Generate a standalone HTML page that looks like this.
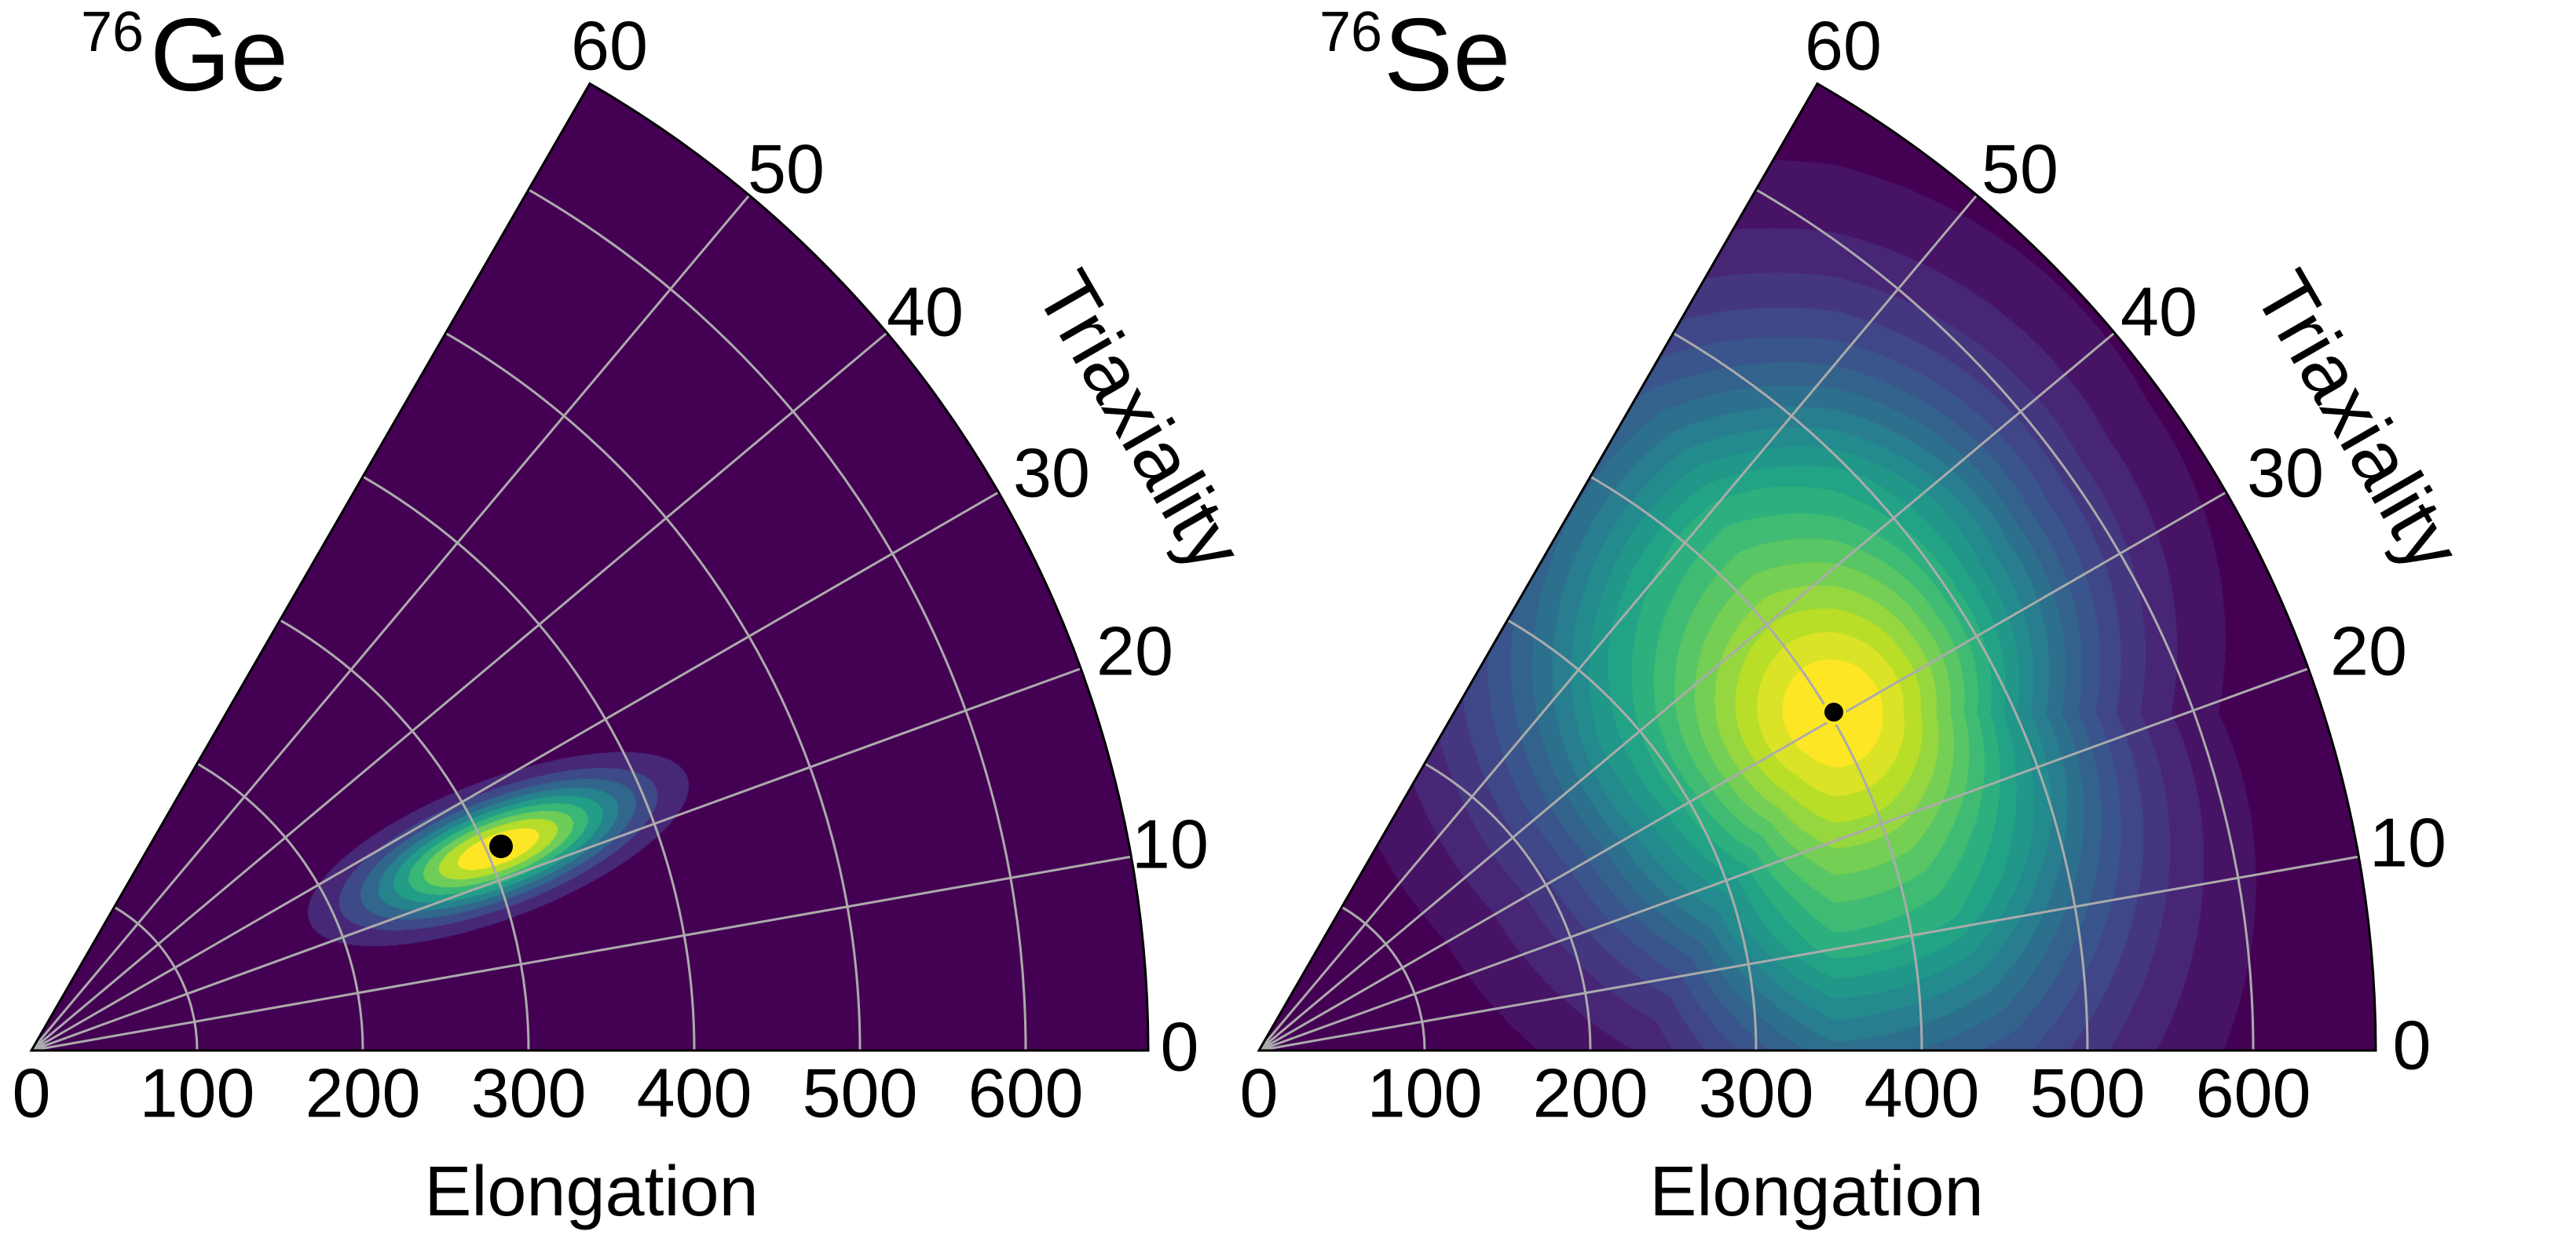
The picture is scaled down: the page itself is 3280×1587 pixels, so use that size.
<!DOCTYPE html>
<html><head><meta charset="utf-8">
<style>
html,body{margin:0;padding:0;background:#fff;}
#wrap{position:relative;width:3280px;height:1587px;overflow:hidden;background:#fff;}
canvas,svg{position:absolute;left:0;top:0;}
text{font-family:"Liberation Sans",Arial,sans-serif;fill:#000;}
</style></head>
<body><div id="wrap">
<svg width="3280" height="1587" style="z-index:0">
  <path d="M40,1338 L751,106.5 A1422,1422 0 0 1 1462,1338 Z" fill="#440154"/>
  <path d="M1603,1338 L2314,106.5 A1422,1422 0 0 1 3025,1338 Z" fill="#440154"/>
</svg>
<canvas id="cv" width="3280" height="1587" style="z-index:1"></canvas>
<svg id="ov" width="3280" height="1587" style="z-index:2">
  <g id="grid" fill="none" stroke="#ababab" stroke-width="3"></g>
  <g fill="none" stroke="#000" stroke-width="3">
    <path d="M40,1338 L751,106.5 A1422,1422 0 0 1 1462,1338 Z"/>
    <path d="M1603,1338 L2314,106.5 A1422,1422 0 0 1 3025,1338 Z"/>
  </g>
  <circle cx="638" cy="1078" r="15" fill="#000"/>
  <circle cx="2335" cy="907" r="16" fill="#fde725"/>
  <circle cx="2335" cy="907" r="12" fill="#000"/>
  <g font-size="88" text-anchor="middle" dominant-baseline="central">
    <text x="40" y="1392">0</text><text x="251" y="1392">100</text><text x="462" y="1392">200</text>
    <text x="673" y="1392">300</text><text x="884" y="1392">400</text><text x="1095" y="1392">500</text>
    <text x="1306" y="1392">600</text>
    <text x="1603" y="1392">0</text><text x="1814" y="1392">100</text><text x="2025" y="1392">200</text>
    <text x="2236" y="1392">300</text><text x="2447" y="1392">400</text><text x="2658" y="1392">500</text>
    <text x="2869" y="1392">600</text>
    <text x="776" y="58">60</text><text x="1001" y="215">50</text><text x="1178" y="397">40</text>
    <text x="1339" y="602">30</text><text x="1445" y="829">20</text><text x="1490" y="1075">10</text>
    <text x="1502" y="1333">0</text>
    <text x="2347" y="58">60</text><text x="2572" y="215">50</text><text x="2749" y="397">40</text>
    <text x="2910" y="602">30</text><text x="3016" y="829">20</text><text x="3066" y="1073">10</text>
    <text x="3071" y="1331">0</text>
  </g>
  <g font-size="90" text-anchor="middle" dominant-baseline="central">
    <text x="753" y="1518">Elongation</text>
    <text x="2313" y="1518">Elongation</text>
  </g>
  <g font-size="100" text-anchor="middle" dominant-baseline="central">
    <text transform="translate(1451,536) rotate(60)">Triaxiality</text>
    <text transform="translate(3002,536) rotate(60)">Triaxiality</text>
  </g>
  <text x="103" y="65" font-size="72">76</text>
  <text x="191" y="115" font-size="132">Ge</text>
  <text x="1680" y="65" font-size="72">76</text>
  <text x="1762" y="115" font-size="132">Se</text>
</svg>
</div>
<script>
(function(){
var R=1422, S=2.11;
var grid=document.getElementById('grid');
var d='';
[40,1603].forEach(function(ox){
  var oy=1338;
  for(var k=1;k<=6;k++){
    var r=k*100*S;
    var x2=ox+r*Math.cos(Math.PI/3), y2=oy-r*Math.sin(Math.PI/3);
    d+='M'+(ox+r)+','+oy+' A'+r+','+r+' 0 0 0 '+x2.toFixed(1)+','+y2.toFixed(1)+' ';
  }
  for(var a=10;a<=50;a+=10){
    var t=a*Math.PI/180;
    d+='M'+ox+','+oy+' L'+(ox+R*Math.cos(t)).toFixed(1)+','+(oy-R*Math.sin(t)).toFixed(1)+' ';
  }
});
var p=document.createElementNS('http://www.w3.org/2000/svg','path');
p.setAttribute('d',d);grid.appendChild(p);

var V=[[68,1,84],[72,36,117],[65,68,135],[53,95,141],[42,120,142],[33,145,140],[34,168,132],[68,191,112],[122,209,81],[189,223,38],[253,231,37]];
function vir(t){t=Math.max(0,Math.min(1,t));var f=t*10,i=Math.min(9,Math.floor(f)),u=f-i;
  return [V[i][0]+(V[i+1][0]-V[i][0])*u,V[i][1]+(V[i+1][1]-V[i][1])*u,V[i][2]+(V[i+1][2]-V[i][2])*u];}
var cv=document.getElementById('cv'),ctx=cv.getContext('2d');
function draw(ox,field,nb){
  var oy=1338,x0=ox,y0=Math.floor(oy-R*Math.sin(Math.PI/3)),w=R+2,h=oy-y0+1;
  var img=ctx.createImageData(w,h),D=img.data;
  var cols=[];for(var b=0;b<nb;b++)cols.push(vir(b/(nb-1)));
  for(var j=0;j<h;j++){var y=y0+j,dy=oy-y;
    for(var i=0;i<w;i++){var x=x0+i,dx=x-ox;
      var r=Math.sqrt(dx*dx+dy*dy);
      if(r>R||dy<0||dy>dx*1.7320508)continue;
      var v=field(x,y);var b=Math.floor(v*nb);if(b>nb-1)b=nb-1;if(b<0)b=0;
      var c=cols[b],k=(j*w+i)*4;D[k]=c[0];D[k+1]=c[1];D[k+2]=c[2];D[k+3]=255;}}
  ctx.putImageData(img,x0,y0);
}
var ca=Math.cos(21*Math.PI/180),sa=Math.sin(21*Math.PI/180);
draw(40,function(x,y){var dx=x-634,dy=1081-y;var u=dx*ca+dy*sa,w=-dx*sa+dy*ca;
  var q=(u/120)*(u/120)+(w/41)*(w/41);
  return Math.exp(-0.5*q);},10);
var A=[0,45,90,120,180,210,240,270,300,330,360],SG=[200,230,285,305,262,235,233,310,300,250,200];
function sig(th){for(var i=0;i<A.length-1;i++){if(th<=A[i+1]){var u=(th-A[i])/(A[i+1]-A[i]);return SG[i]+(SG[i+1]-SG[i])*u;}}return 200;}
draw(1603,function(x,y){var dx=x-2335,dy=907-y;var dd=Math.sqrt(dx*dx+dy*dy);
  var th=Math.atan2(dy,dx)*180/Math.PI;if(th<0)th+=360;
  var s=190+(sig(th)-190)*Math.min(1,dd/300);var q=dd/s;return Math.exp(-0.5*q*q);},20);
})();
</script>
</body></html>
